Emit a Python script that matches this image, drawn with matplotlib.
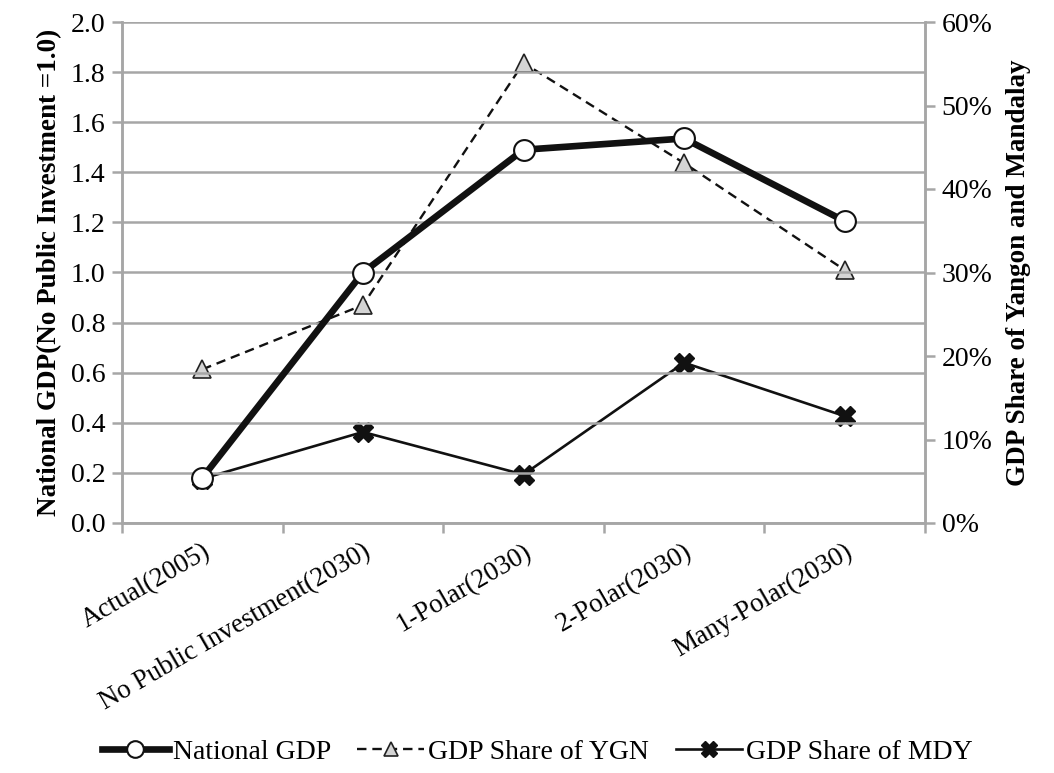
import matplotlib
matplotlib.use("Agg")
import matplotlib.pyplot as plt
from matplotlib.ticker import FuncFormatter, MultipleLocator

plt.rcParams["font.family"] = ["Liberation Serif", "DejaVu Serif"]

categories = [
    "Actual(2005)",
    "No Public Investment(2030)",
    "1-Polar(2030)",
    "2-Polar(2030)",
    "Many-Polar(2030)",
]
national_gdp = [0.18, 1.00, 1.49, 1.535, 1.205]
share_ygn = [18.4, 26.1, 55.1, 43.1, 30.3]
share_mdy = [5.3, 10.9, 5.8, 19.2, 12.8]

grid_c = "#a6a6a6"

fig = plt.figure(figsize=(10.54, 7.73), dpi=100)
ax = fig.add_axes([122 / 1054, 1 - 523 / 773, 803 / 1054, 501 / 773])
ax2 = ax.twinx()

x = list(range(len(categories)))

# right axis series (shares, %)
ax2.plot(x, share_ygn, ls=(0, (4, 2.5)), lw=1.7, color="#111111",
         marker="^", ms=13, mfc="#d4d4d4", mec="#222222", mew=1.2,
         label="GDP Share of YGN", zorder=3)
ax2.plot(x, share_mdy, ls="-", lw=1.9, color="#111111",
         marker="X", ms=15, mfc="#111111", mec="#111111",
         label="GDP Share of MDY", zorder=4)
ax2.set_ylim(0, 60)
ax2.yaxis.set_major_locator(MultipleLocator(10))
ax2.yaxis.set_major_formatter(FuncFormatter(lambda v, p: f"{v:.0f}%"))

# left axis series
ax.plot(x, national_gdp, ls="-", lw=4.8, color="#111111",
        marker="o", ms=15, mfc="white", mec="#111111", mew=1.5,
        label="National GDP", zorder=3)
ax.set_ylim(0, 2.0)
ax.yaxis.set_major_locator(MultipleLocator(0.2))
ax.yaxis.set_major_formatter(FuncFormatter(lambda v, p: f"{v:.1f}"))
ax.set_xlim(-0.5, len(categories) - 0.5)

# put national line above shares
ax.set_zorder(ax2.get_zorder() + 1)
ax.patch.set_visible(False)

ax.grid(axis="y", color=grid_c, lw=1.8)
ax.set_axisbelow(True)

# category boundary ticks
ax.set_xticks([i - 0.5 for i in range(len(categories) + 1)])
ax.set_xticklabels([])
ax.set_xticks(x, minor=True)
ax.set_xticklabels(categories, minor=True, rotation=30, ha="right",
                   rotation_mode="anchor", fontsize=19.5)
ax.tick_params(axis="x", which="minor", length=0, pad=12)
ax.tick_params(axis="x", which="major", length=7, color=grid_c, width=1.8)

for a in (ax, ax2):
    a.spines["top"].set_visible(False)
    for s in ("left", "right", "bottom"):
        a.spines[s].set_color(grid_c)
        a.spines[s].set_linewidth(1.8)
ax.tick_params(axis="y", length=7, color=grid_c, width=1.8, labelsize=20, pad=5)
ax2.tick_params(axis="y", length=7, color=grid_c, width=1.8, labelsize=20, pad=5)

ax.set_ylabel("National GDP(No Public Investment =1.0)", fontsize=19.5,
              fontweight="bold", labelpad=6)
ax2.set_ylabel("GDP Share of Yangon and Mandalay", fontsize=19.5,
               fontweight="bold", labelpad=10)

h1, l1 = ax.get_legend_handles_labels()
h2, l2 = ax2.get_legend_handles_labels()
fig.legend(h1 + h2, l1 + l2, loc="center", bbox_to_anchor=(0.51, 1 - 752 / 773),
           ncol=3, frameon=False, fontsize=20, handlelength=2.4,
           handletextpad=0.15, columnspacing=0.95, markerscale=0.8)

fig.savefig("out.png", dpi=100)
